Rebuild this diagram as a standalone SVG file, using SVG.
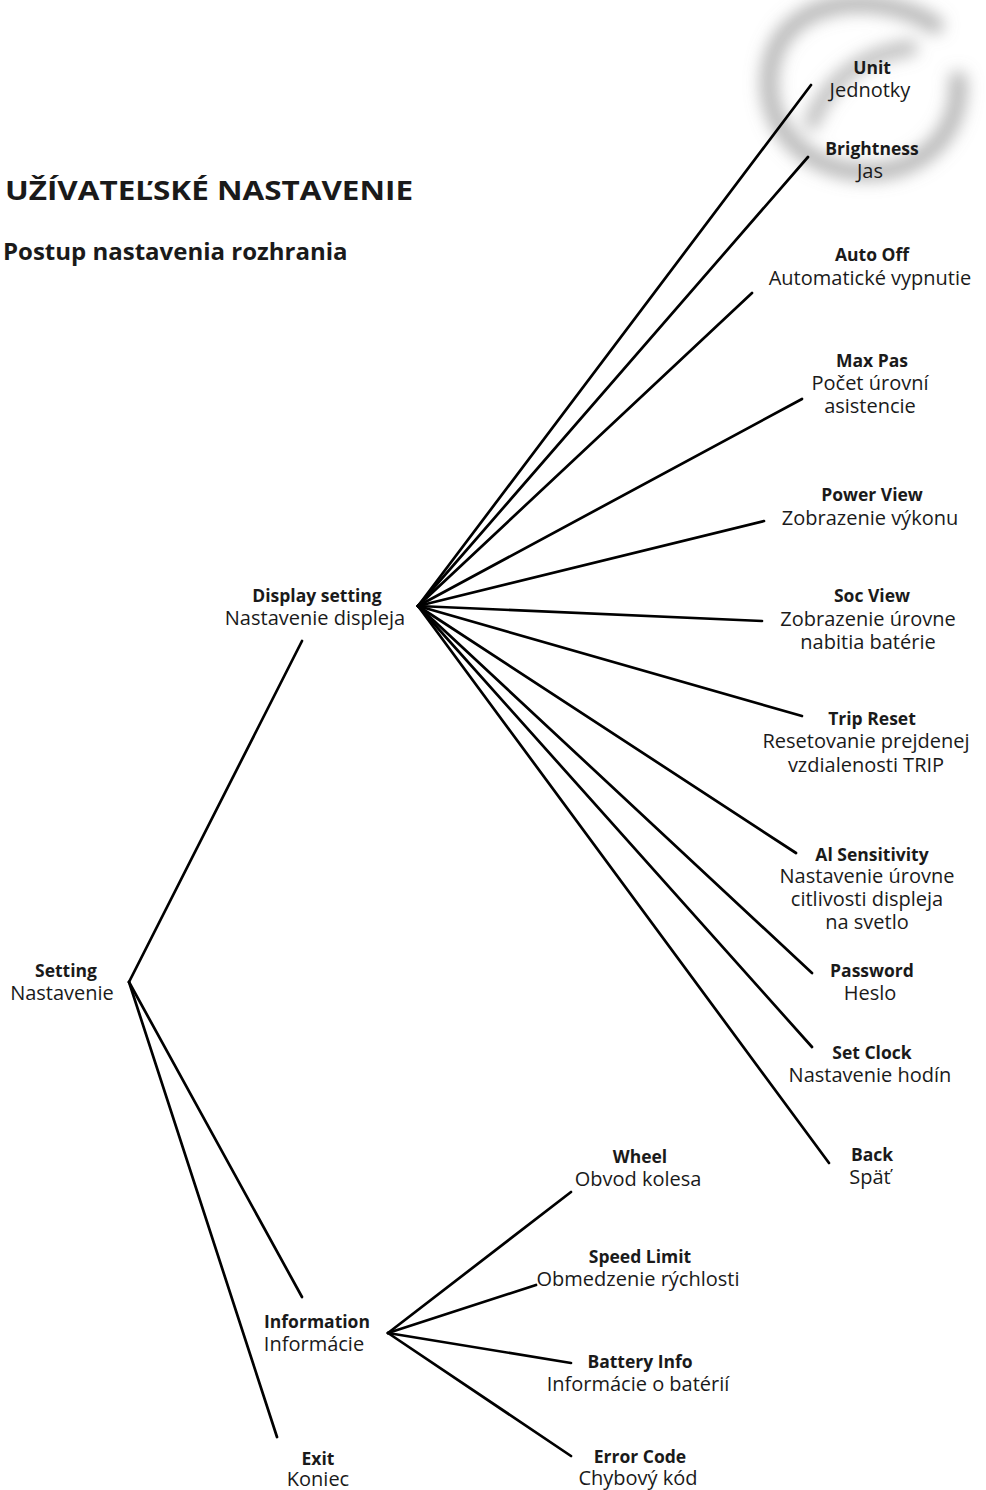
<svg xmlns="http://www.w3.org/2000/svg" width="986" height="1490" viewBox="0 0 986 1490">
<style>
text{font-family:"Open Sans","Noto Sans","Liberation Sans",sans-serif;fill:#1a1a1a;text-anchor:middle}
.b{font-weight:700;font-size:17.5px}
.r{font-weight:400;font-size:20px}
.title{font-weight:700;font-size:27px;text-anchor:start}
.sub{font-weight:700;font-size:24px;text-anchor:start}
#connectors line{stroke:#000;stroke-width:2.7;stroke-linecap:round}
</style>
<defs>
<filter id="blur" x="-50%" y="-50%" width="200%" height="200%"><feGaussianBlur stdDeviation="8"/></filter>
</defs>
<rect width="986" height="1490" fill="#fff"/>
<g id="swirl" filter="url(#blur)" fill="none" stroke="#8a8a8a" stroke-linecap="round">
<path d="M935 25 C 880 -10, 790 -5, 772 60 C 758 115, 795 168, 862 172 C 925 174, 962 130, 958 80" stroke-width="18" opacity="0.6"/>
<path d="M812 122 C 828 82, 860 55, 910 48" stroke-width="16" opacity="0.55"/>
</g>
<text class="title" x="5" y="200" textLength="408" lengthAdjust="spacingAndGlyphs">UŽÍVATEĽSKÉ NASTAVENIE</text>
<text class="sub" x="3" y="260">Postup nastavenia rozhrania</text>
<g id="connectors">
<line x1="418" y1="606" x2="811" y2="85"/>
<line x1="418" y1="606" x2="808" y2="157"/>
<line x1="418" y1="606" x2="752" y2="293"/>
<line x1="418" y1="606" x2="802" y2="399"/>
<line x1="418" y1="606" x2="764" y2="521"/>
<line x1="418" y1="606" x2="762" y2="621"/>
<line x1="418" y1="606" x2="802" y2="716"/>
<line x1="418" y1="606" x2="796" y2="853"/>
<line x1="418" y1="606" x2="812" y2="973"/>
<line x1="418" y1="606" x2="812" y2="1047"/>
<line x1="418" y1="606" x2="829" y2="1163"/>
<line x1="129" y1="982" x2="302" y2="641"/>
<line x1="129" y1="982" x2="302" y2="1297"/>
<line x1="129" y1="982" x2="277" y2="1437"/>
<line x1="388" y1="1333" x2="571" y2="1192"/>
<line x1="388" y1="1333" x2="536" y2="1285"/>
<line x1="388" y1="1333" x2="571" y2="1363"/>
<line x1="388" y1="1333" x2="571" y2="1456"/>
</g>
<g id="setting"><text class="b" x="66" y="977">Setting</text><text class="r" x="62" y="1000">Nastavenie</text></g>
<g id="display"><text class="b" x="317" y="602">Display setting</text><text class="r" x="315" y="625">Nastavenie displeja</text></g>
<g id="information"><text class="b" x="317" y="1328">Information</text><text class="r" x="314" y="1351">Informácie</text></g>
<g id="exit"><text class="b" x="318" y="1465">Exit</text><text class="r" x="318" y="1486">Koniec</text></g>
<g id="unit"><text class="b" x="872" y="74">Unit</text><text class="r" x="870" y="97">Jednotky</text></g>
<g id="brightness"><text class="b" x="872" y="155">Brightness</text><text class="r" x="870" y="178">Jas</text></g>
<g id="autooff"><text class="b" x="872" y="261">Auto Off</text><text class="r" x="870" y="285">Automatické vypnutie</text></g>
<g id="maxpas"><text class="b" x="872" y="367">Max Pas</text><text class="r" x="870" y="390">Počet úrovní</text><text class="r" x="870" y="413">asistencie</text></g>
<g id="powerview"><text class="b" x="872" y="501">Power View</text><text class="r" x="870" y="525">Zobrazenie výkonu</text></g>
<g id="socview"><text class="b" x="872" y="602">Soc View</text><text class="r" x="868" y="626">Zobrazenie úrovne</text><text class="r" x="868" y="649">nabitia batérie</text></g>
<g id="tripreset"><text class="b" x="872" y="725">Trip Reset</text><text class="r" x="866" y="748">Resetovanie prejdenej</text><text class="r" x="866" y="772">vzdialenosti TRIP</text></g>
<g id="alsensitivity"><text class="b" x="872" y="861">Al Sensitivity</text><text class="r" x="867" y="883">Nastavenie úrovne</text><text class="r" x="867" y="906">citlivosti displeja</text><text class="r" x="867" y="929">na svetlo</text></g>
<g id="password"><text class="b" x="872" y="977">Password</text><text class="r" x="870" y="1000">Heslo</text></g>
<g id="setclock"><text class="b" x="872" y="1059">Set Clock</text><text class="r" x="870" y="1082">Nastavenie hodín</text></g>
<g id="back"><text class="b" x="872" y="1161">Back</text><text class="r" x="870" y="1184">Späť</text></g>
<g id="wheel"><text class="b" x="640" y="1163">Wheel</text><text class="r" x="638" y="1186">Obvod kolesa</text></g>
<g id="speedlimit"><text class="b" x="640" y="1263">Speed Limit</text><text class="r" x="638" y="1286">Obmedzenie rýchlosti</text></g>
<g id="batteryinfo"><text class="b" x="640" y="1368">Battery Info</text><text class="r" x="638" y="1391">Informácie o batérií</text></g>
<g id="errorcode"><text class="b" x="640" y="1463">Error Code</text><text class="r" x="638" y="1485">Chybový kód</text></g>
</svg>
